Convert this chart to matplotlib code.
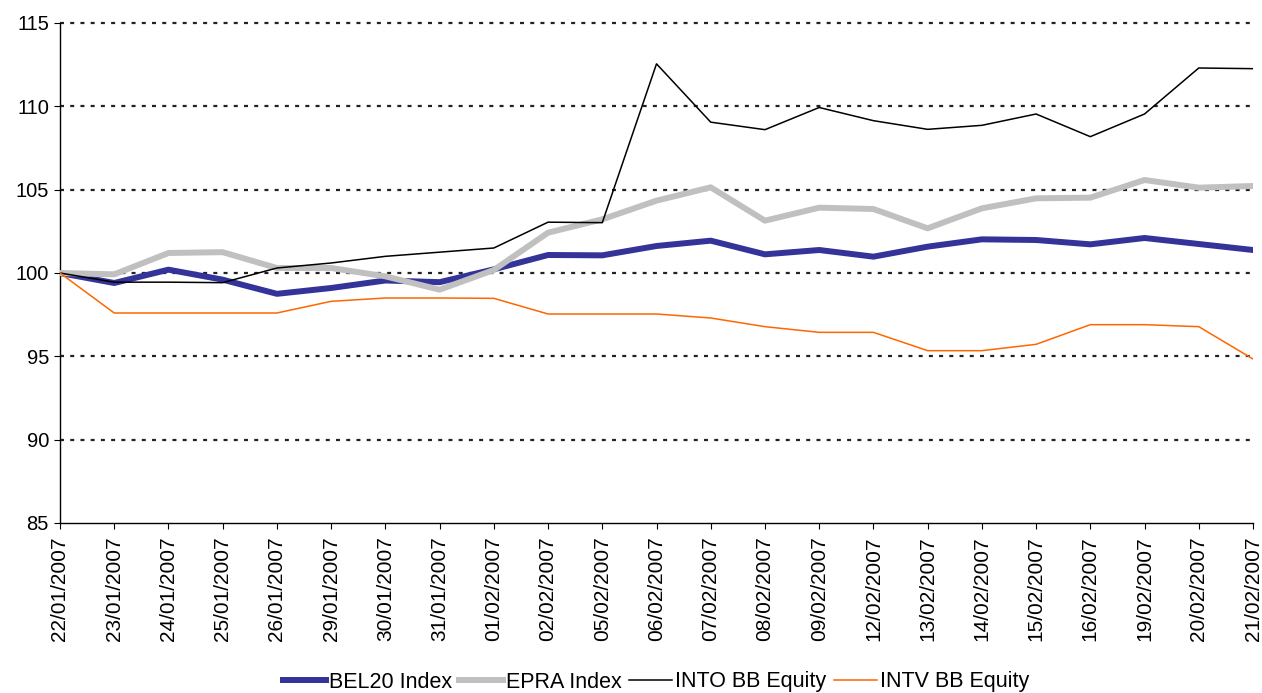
import matplotlib.pyplot as plt

plt.rcParams['font.family'] = ['Liberation Sans', 'DejaVu Sans']

# dates (trading days)
dates = ['22/01/2007', '23/01/2007', '24/01/2007', '25/01/2007', '26/01/2007',
         '29/01/2007', '30/01/2007', '31/01/2007', '01/02/2007', '02/02/2007',
         '05/02/2007', '06/02/2007', '07/02/2007', '08/02/2007', '09/02/2007',
         '12/02/2007', '13/02/2007', '14/02/2007', '15/02/2007', '16/02/2007',
         '19/02/2007', '20/02/2007', '21/02/2007']

bel20 = [100.0, 99.4, 100.2, 99.6, 98.75, 99.1, 99.55, 99.45, 100.22, 101.08,
         101.06, 101.62, 101.94, 101.12, 101.38, 100.98, 101.58, 102.02, 101.98,
         101.72, 102.1, 101.74, 101.38]
epra = [100.0, 99.92, 101.2, 101.25, 100.3, 100.3, 99.8, 99.0, 100.18, 102.42,
        103.22, 104.34, 105.14, 103.14, 103.92, 103.84, 102.68, 103.88, 104.48,
        104.52, 105.58, 105.12, 105.22]
into = [100.0, 99.45, 99.45, 99.42, 100.3, 100.6, 101.0, 101.25, 101.5, 103.05,
        103.02, 112.55, 109.05, 108.6, 109.93, 109.14, 108.62, 108.86, 109.54,
        108.18, 109.54, 112.3, 112.26]
intv = [100.0, 97.6, 97.6, 97.6, 97.6, 98.3, 98.5, 98.5, 98.48, 97.54,
        97.54, 97.54, 97.3, 96.78, 96.44, 96.44, 95.34, 95.34, 95.72,
        96.9, 96.9, 96.78, 94.84]

fig = plt.figure(figsize=(12.62, 6.93), dpi=100)
ax = fig.add_axes([60 / 1262, 170 / 693, 1193 / 1262, 500 / 693])

x = range(len(dates))

# dotted horizontal grid
for yv in [90, 95, 100, 105, 110, 115]:
    ax.axhline(yv, color='#222222', lw=1.6, ls=(0, (1.8, 2.8)), zorder=1,
               clip_on=False)

ax.plot(x, bel20, color='#333399', lw=4.3, label='BEL20 Index', zorder=3)
ax.plot(x, epra, color='#C0C0C0', lw=4.3, label='EPRA Index', zorder=4)
ax.plot(x, into, color='black', lw=1.1, label='INTO BB Equity', zorder=5)
ax.plot(x, intv, color='#FF6600', lw=1.1, label='INTV BB Equity', zorder=6)

ax.set_xlim(0, len(dates) - 1)
ax.set_ylim(85, 115)
ax.set_yticks([85, 90, 95, 100, 105, 110, 115])
ax.set_xticks(list(x))
ax.set_xticklabels(dates, rotation=90, fontsize=15)
ax.tick_params(axis='y', labelsize=14.5, length=4, direction='out', pad=4)
ax.tick_params(axis='x', length=4.5, direction='out', pad=5)

ax.spines['top'].set_visible(False)
ax.spines['right'].set_visible(False)
ax.spines['left'].set_linewidth(1.0)
ax.spines['bottom'].set_linewidth(1.0)

fig.legend(loc='center', bbox_to_anchor=(656 / 1262, 1 - 682 / 693), ncol=4,
           frameon=False, fontsize=15.5, handlelength=2.0, handletextpad=0.15,
           columnspacing=0.35)

fig.savefig('out.png', dpi=100)
